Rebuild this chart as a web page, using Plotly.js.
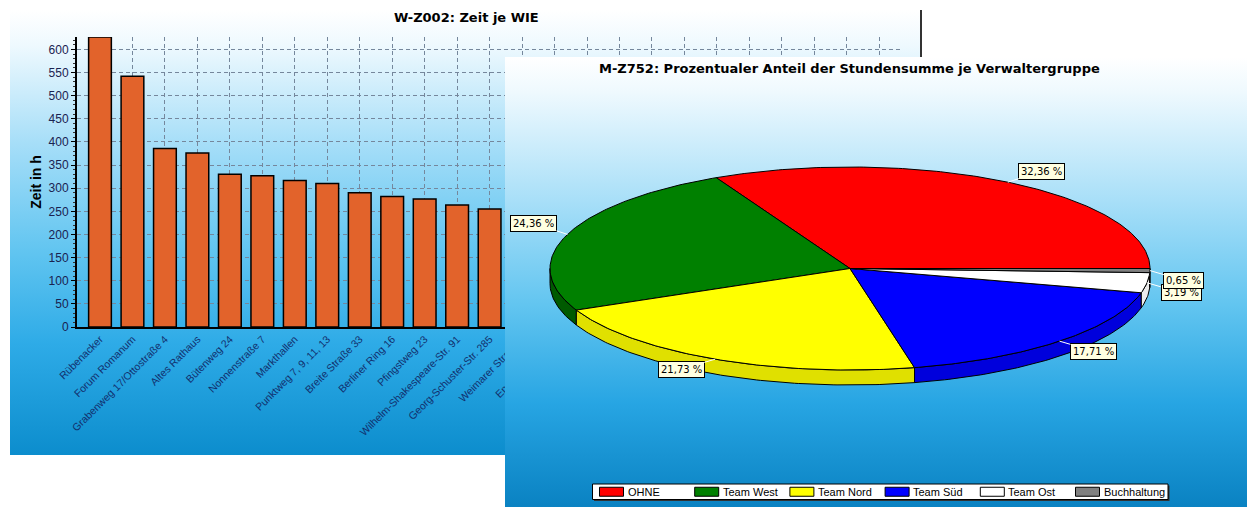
<!DOCTYPE html>
<html><head><meta charset="utf-8">
<script src="https://cdn.plot.ly/plotly-3.0.1.min.js"></script>
<style>html,body{margin:0;padding:0;background:#fff;}#chart{width:1247px;height:507px;}</style>
</head><body><div id="chart"></div>
<script>
const W = 1247, H = 507;

// ---- Bar chart data ----
const barTitle = 'W-Z002: Zeit je WIE';
const barLabels = ['Rübenacker', 'Forum Romanum', 'Grabenweg 17/Ottostraße 4', 'Altes Rathaus', 'Bütenweg 24',
  'Nonnenstraße 7', 'Markthallen', 'Punktweg 7, 9, 11, 13', 'Breite Straße 33', 'Berliner Ring 16',
  'Pfingstweg 23', 'Wilhelm-Shakespeare-Str. 91', 'Georg-Schuster-Str. 285', 'Weimarer Straße 8', 'Endlicher Weg 14'];
const barHours = [627, 542, 386, 376, 330, 327, 317, 310, 290, 282, 277, 264, 255, 248, 240];
const barCategoryCount = 25;
const yTitle = 'Zeit in h';

// ---- Pie chart data ----
const pieTitle = 'M-Z752: Prozentualer Anteil der Stundensumme je Verwaltergruppe';
const groups = ['OHNE', 'Team West', 'Team Nord', 'Team Süd', 'Team Ost', 'Buchhaltung'];
const shares = [32.36, 24.36, 21.73, 17.71, 3.19, 0.65];
const groupColors = ['#ff0000', '#008000', '#ffff00', '#0000ff', '#ffffff', '#808080'];
const sideColors = ['#c80000', '#005a00', '#e0e000', '#0000dc', '#ececec', '#6a6a6a'];

// ---- helpers ----
function gradURI(stops) {
  const s = stops.map(st => `<stop offset='${st[0]}' stop-color='${st[1]}'/>`).join('');
  const svg = `<svg xmlns='http://www.w3.org/2000/svg' width='100' height='100' viewBox='0 0 100 100' preserveAspectRatio='none'><defs><linearGradient id='g' x1='0' y1='0' x2='0' y2='1'>${s}</linearGradient></defs><rect x='0' y='0' width='100' height='100' fill='url(#g)'/></svg>`;
  return 'data:image/svg+xml;charset=utf-8,' + encodeURIComponent(svg);
}
const barStops = [[0, '#ffffff'], [0.08, '#eef9fe'], [0.3, '#a6def8'], [0.55, '#5fc4f0'], [0.75, '#2eabe7'], [1, '#0c8dcd']];
const pieStops = [[0, '#ffffff'], [0.08, '#eef9fe'], [0.32, '#a8dff8'], [0.55, '#62c5f0'], [0.77, '#27a5e3'], [1, '#0a82c2']];

// pie geometry (pixel-like units of the pie subplot)
const PIE = {cx: 850, cy: 268.5, rx: 300, ry: 101.5, depth: 15};
function pt(a, dy) {
  const r = a * Math.PI / 180;
  return [PIE.cx + PIE.rx * Math.cos(r), PIE.cy - PIE.ry * Math.sin(r) + (dy || 0)];
}
function arc(a1, a2, dy) {
  const n = Math.max(2, Math.ceil(Math.abs(a2 - a1) / 0.75));
  const out = [];
  for (let i = 0; i <= n; i++) out.push(pt(a1 + (a2 - a1) * i / n, dy));
  return out;
}

const traces = [];
// bars
traces.push({
  type: 'bar', x: barHours.map((v, i) => i), y: barHours, xaxis: 'x', yaxis: 'y',
  width: 0.7, marker: {color: '#e2632b', line: {color: '#000000', width: 1.5}},
  hoverinfo: 'skip', showlegend: false
});

// pie slices
let cum = 0;
const slices = shares.map((s, i) => {
  const a1 = cum * 3.6; cum += s; const a2 = cum * 3.6;
  return {a1, a2, i};
});
// side walls (front half only)
slices.forEach(({a1, a2, i}) => {
  const s1 = Math.max(a1, 180), s2 = Math.min(a2, 360);
  if (s2 <= s1) return;
  const pts = arc(s1, s2, 0).concat(arc(s2, s1, PIE.depth));
  pts.push(pts[0]);
  traces.push({
    type: 'scatter', mode: 'lines', xaxis: 'x2', yaxis: 'y2', fill: 'toself',
    x: pts.map(p => p[0]), y: pts.map(p => p[1]),
    fillcolor: sideColors[i], line: {color: '#000000', width: 1},
    hoverinfo: 'skip', showlegend: false
  });
});
// top faces
slices.forEach(({a1, a2, i}) => {
  const pts = [[PIE.cx, PIE.cy]].concat(arc(a1, a2, 0));
  pts.push([PIE.cx, PIE.cy]);
  traces.push({
    type: 'scatter', mode: 'lines', xaxis: 'x2', yaxis: 'y2', fill: 'toself',
    x: pts.map(p => p[0]), y: pts.map(p => p[1]),
    fillcolor: groupColors[i], line: {color: '#000000', width: 1},
    name: groups[i], hoverinfo: 'skip', showlegend: false
  });
});

const annotations = [];
// titles
annotations.push({xref: 'paper', yref: 'paper', x: 466 / W, y: 1 - 18 / H, xanchor: 'center', yanchor: 'middle',
  text: '<b>' + barTitle + '</b>', showarrow: false, font: {family: 'DejaVu Sans', size: 13, color: '#000'}});
annotations.push({xref: 'x2', yref: 'y2', x: 849, y: 68, xanchor: 'center', yanchor: 'middle',
  text: '<b>' + pieTitle + '</b>', showarrow: false, font: {family: 'DejaVu Sans', size: 13, color: '#000'}});
// slice labels
slices.forEach(({a1, a2, i}) => {
  const mid = (a1 + a2) / 2;
  const p = pt(mid, 0);
  const c = Math.cos(mid * Math.PI / 180), s = Math.sin(mid * Math.PI / 180);
  annotations.push({
    xref: 'x2', yref: 'y2', x: p[0], y: p[1],
    text: shares[i].toFixed(2).replace('.', ',') + ' %',
    showarrow: true, arrowhead: 0, arrowwidth: 1, arrowcolor: '#ffffff', standoff: 0,
    ax: (c >= 0 ? 34 : -34), ay: (s > 0 ? -11 : 10),
    bgcolor: '#ffffe1', bordercolor: '#000000', borderwidth: 1, borderpad: 2,
    font: {family: 'DejaVu Sans', size: 10, color: '#000'}
  });
});

// legend (built from the group arrays)
const shapes = [];
shapes.push({type: 'line', xref: 'paper', yref: 'paper', x0: 921 / W, x1: 921 / W, y0: 1 - 10 / H, y1: 1 - 455 / H,
  line: {color: '#333333', width: 2}, layer: 'below'});
const LEG = {x0: 592.5, x1: 1168, y0: 484, y1: 499.5, first: 599.5, step: 95.2, sw: 24, sh: 9};
shapes.push({type: 'rect', xref: 'x2', yref: 'y2', x0: LEG.x0 + 1.5, x1: LEG.x1 + 1.5, y0: LEG.y0 + 1.5, y1: LEG.y1 + 1.5,
  fillcolor: '#333333', line: {width: 0}, layer: 'above'});
shapes.push({type: 'rect', xref: 'x2', yref: 'y2', x0: LEG.x0, x1: LEG.x1, y0: LEG.y0, y1: LEG.y1,
  fillcolor: '#ffffff', line: {color: '#000000', width: 1}, layer: 'above'});
const legMid = (LEG.y0 + LEG.y1) / 2;
groups.forEach((g, i) => {
  const x = LEG.first + LEG.step * i;
  shapes.push({type: 'rect', xref: 'x2', yref: 'y2', x0: x, x1: x + LEG.sw, y0: legMid - LEG.sh / 2, y1: legMid + LEG.sh / 2,
    fillcolor: groupColors[i], line: {color: '#000000', width: 1}, layer: 'above'});
  annotations.push({xref: 'x2', yref: 'y2', x: x + LEG.sw + 2, y: legMid, xanchor: 'left', yanchor: 'middle',
    text: g, showarrow: false, font: {family: 'Liberation Sans, Arial', size: 11, color: '#000'}});
});

const tickvals = [], ticktext = [];
for (let i = 0; i < barCategoryCount; i++) { tickvals.push(i); ticktext.push(barLabels[i] || ''); }

const gridCol = '#75879c';
const layout = {
  width: W, height: H, autosize: false,
  margin: {l: 0, r: 0, t: 0, b: 0, pad: 0},
  paper_bgcolor: '#ffffff', plot_bgcolor: 'rgba(0,0,0,0)',
  showlegend: false,
  xaxis: {
    domain: [77 / W, 900 / W], range: [-0.708, 24.64], anchor: 'y',
    tickmode: 'array', tickvals: tickvals, ticktext: ticktext, tickangle: -45,
    tickfont: {family: 'Liberation Sans, Arial', size: 10.5, color: '#12306e'},
    showgrid: true, gridcolor: gridCol, griddash: '4px,3px', gridwidth: 1,
    showline: true, linecolor: '#000000', linewidth: 2, ticks: '', zeroline: false, automargin: false
  },
  yaxis: {
    domain: [1 - 327 / H, 1 - 37 / H], range: [0, 627], anchor: 'x',
    tick0: 0, dtick: 50, ticks: 'outside', ticklen: 4, tickcolor: '#000000',
    tickfont: {family: 'Liberation Sans, Arial', size: 12, color: '#1a2250'},
    showline: true, linecolor: '#000000', linewidth: 2,
    showgrid: true, gridcolor: gridCol, griddash: '4px,3px', gridwidth: 1, zeroline: false,
    minor: {dtick: 10, ticks: 'outside', ticklen: 2, tickcolor: '#333333', showgrid: false},
    title: {text: '<b>' + yTitle + '</b>', font: {family: 'Liberation Sans, Arial', size: 14, color: '#000'}, standoff: 4},
    automargin: false
  },
  xaxis2: {domain: [505 / W, 1], range: [505, W], anchor: 'y2', visible: false, fixedrange: true},
  yaxis2: {domain: [0, 1 - 57 / H], range: [507, 57], anchor: 'x2', visible: false, fixedrange: true},
  images: [
    {source: gradURI(barStops), xref: 'paper', yref: 'paper', x: 10 / W, y: 1 - 10 / H, sizex: 911 / W, sizey: 445 / H,
      sizing: 'stretch', layer: 'below', xanchor: 'left', yanchor: 'top'},
    {source: gradURI(pieStops), xref: 'x2', yref: 'y2', x: 505, y: 57, sizex: W - 505, sizey: 450,
      sizing: 'stretch', layer: 'below', xanchor: 'left', yanchor: 'top'}
  ],
  shapes: shapes,
  annotations: annotations
};

Plotly.newPlot('chart', traces, layout, {staticPlot: true, displayModeBar: false});
</script>
</body></html>
